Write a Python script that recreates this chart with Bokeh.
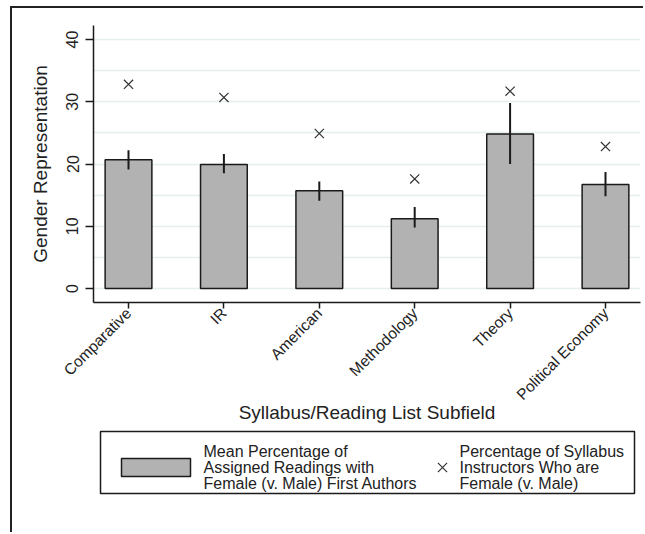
from math import pi
from bokeh.plotting import figure
from bokeh.layouts import column
from bokeh.models import Range1d, FixedTicker, ColumnDataSource
from bokeh.core.properties import value
from bokeh.embed import file_html
from bokeh.resources import INLINE

# ---- data ----
categories = ["Comparative", "IR", "American", "Methodology", "Theory", "Political Economy"]
mean_female_first_author = [20.7, 19.9, 15.7, 11.2, 24.8, 16.7]
ci_lower = [19.1, 18.5, 14.1, 9.8, 20.0, 14.8]
ci_upper = [22.2, 21.6, 17.2, 13.1, 29.8, 18.7]
female_instructors = [32.8, 30.7, 24.9, 17.6, 31.7, 22.8]
y_ticks = [0, 10, 20, 30, 40]
grid_ticks = [0, 5, 10, 15, 20, 25, 30, 35, 40]
x_title = "Syllabus/Reading List Subfield"
y_title = "Gender Representation"
legend_bar_lines = ["Mean Percentage of", "Assigned Readings with", "Female (v. Male) First Authors"]
legend_x_lines = ["Percentage of Syllabus", "Instructors Who are", "Female (v. Male)"]

FONT = "Liberation Sans"
TXT = "#222222"
BAR_FILL = "#b2b2b2"
DARK = "#1a1a1a"
BORDER = "2px solid #222"

xs = list(range(1, len(categories) + 1))
src = ColumnDataSource(dict(x=xs, mean=mean_female_first_author, lo=ci_lower,
                            hi=ci_upper, inst=female_instructors))

W = 633
H1 = 420
H2 = 106
BL, BR = 81, 5          # left / right borders around the plot frame
FW = W - BL - BR        # frame width in pixels

p = figure(width=W, height=H1, output_backend="svg", toolbar_location=None,
           x_range=Range1d(0.633, 6.367), y_range=Range1d(-2.25, 42.25),
           min_border_left=BL, min_border_right=BR, min_border_top=17,
           min_border_bottom=126)
p.outline_line_color = None
p.background_fill_color = "white"
p.border_fill_color = "white"
p.styles = {"border-left": BORDER, "border-top": BORDER}

p.vbar(x="x", top="mean", bottom=0, width=0.49, source=src,
       fill_color=BAR_FILL, line_color=DARK, line_width=1.5)
p.segment(x0="x", y0="lo", x1="x", y1="hi", source=src,
          line_color=DARK, line_width=2)
p.scatter(x="x", y="inst", marker="x", size=13, source=src,
          line_color="#333333", line_width=1.2)

# grid
p.xgrid.visible = False
p.ygrid.ticker = FixedTicker(ticks=grid_ticks)
p.ygrid.grid_line_color = "#e6eef0"
p.ygrid.grid_line_width = 1.5

# axes
for ax in (p.xaxis[0], p.yaxis[0]):
    ax.axis_line_color = DARK
    ax.axis_line_width = 1.5
    ax.major_tick_line_color = DARK
    ax.major_tick_line_width = 1.5
    ax.major_tick_in = 0
    ax.minor_tick_line_color = None
    ax.major_label_text_font = FONT
    ax.major_label_text_color = TXT
    ax.axis_label_text_font = FONT
    ax.axis_label_text_font_size = "19px"
    ax.axis_label_text_font_style = "normal"
    ax.axis_label_text_color = TXT

p.yaxis.ticker = FixedTicker(ticks=y_ticks)
p.yaxis.major_tick_out = 8
p.yaxis.major_label_text_font_size = "16px"
p.yaxis.major_label_orientation = "vertical"
p.yaxis.major_label_standoff = 7
p.yaxis.axis_label = y_title
p.yaxis.axis_label_standoff = 13

p.xaxis.ticker = FixedTicker(ticks=xs)
p.xaxis.major_label_overrides = {x: c for x, c in zip(xs, categories)}
p.xaxis.major_label_text_font_size = "15.5px"
p.xaxis.major_tick_out = 6
p.xaxis.major_label_orientation = pi / 4
p.xaxis.major_label_standoff = 2
p.xaxis.axis_label = x_title
p.xaxis.axis_label_standoff = -10

# ---- legend panel (second figure; pixel coords from the frame's left, y downward) ----
lg = figure(width=W, height=H2, output_backend="svg", toolbar_location=None,
            x_range=Range1d(0, FW), y_range=Range1d(H2, 0),
            x_axis_location=None, y_axis_location=None,
            min_border_left=BL, min_border_right=BR,
            min_border_top=0, min_border_bottom=0)
lg.outline_line_color = None
lg.grid.visible = False
lg.background_fill_color = "white"
lg.border_fill_color = "white"
lg.styles = {"border-left": BORDER}

lg.quad(left=[7], right=[541], top=[5], bottom=[67],
        fill_color=None, line_color=DARK, line_width=1.5)
lg.quad(left=[28], right=[97], top=[32], bottom=[50],
        fill_color=BAR_FILL, line_color=DARK, line_width=1.5)
lg.scatter(x=[349], y=[41], marker="x", size=13,
           line_color="#333333", line_width=1.2)
line_y = [25 + 16 * i for i in range(len(legend_bar_lines))]
lg.text(x=[110] * len(legend_bar_lines), y=line_y, text=legend_bar_lines,
        text_baseline="middle", text_font=value(FONT),
        text_font_size="16px", text_color=TXT)
lg.text(x=[366] * len(legend_x_lines), y=line_y, text=legend_x_lines,
        text_baseline="middle", text_font=value(FONT),
        text_font_size="16px", text_color=TXT)

layout = column(p, lg, spacing=0)
layout.margin = (6, 0, 0, 10)

open("out.html", "w").write(file_html(layout, INLINE))
